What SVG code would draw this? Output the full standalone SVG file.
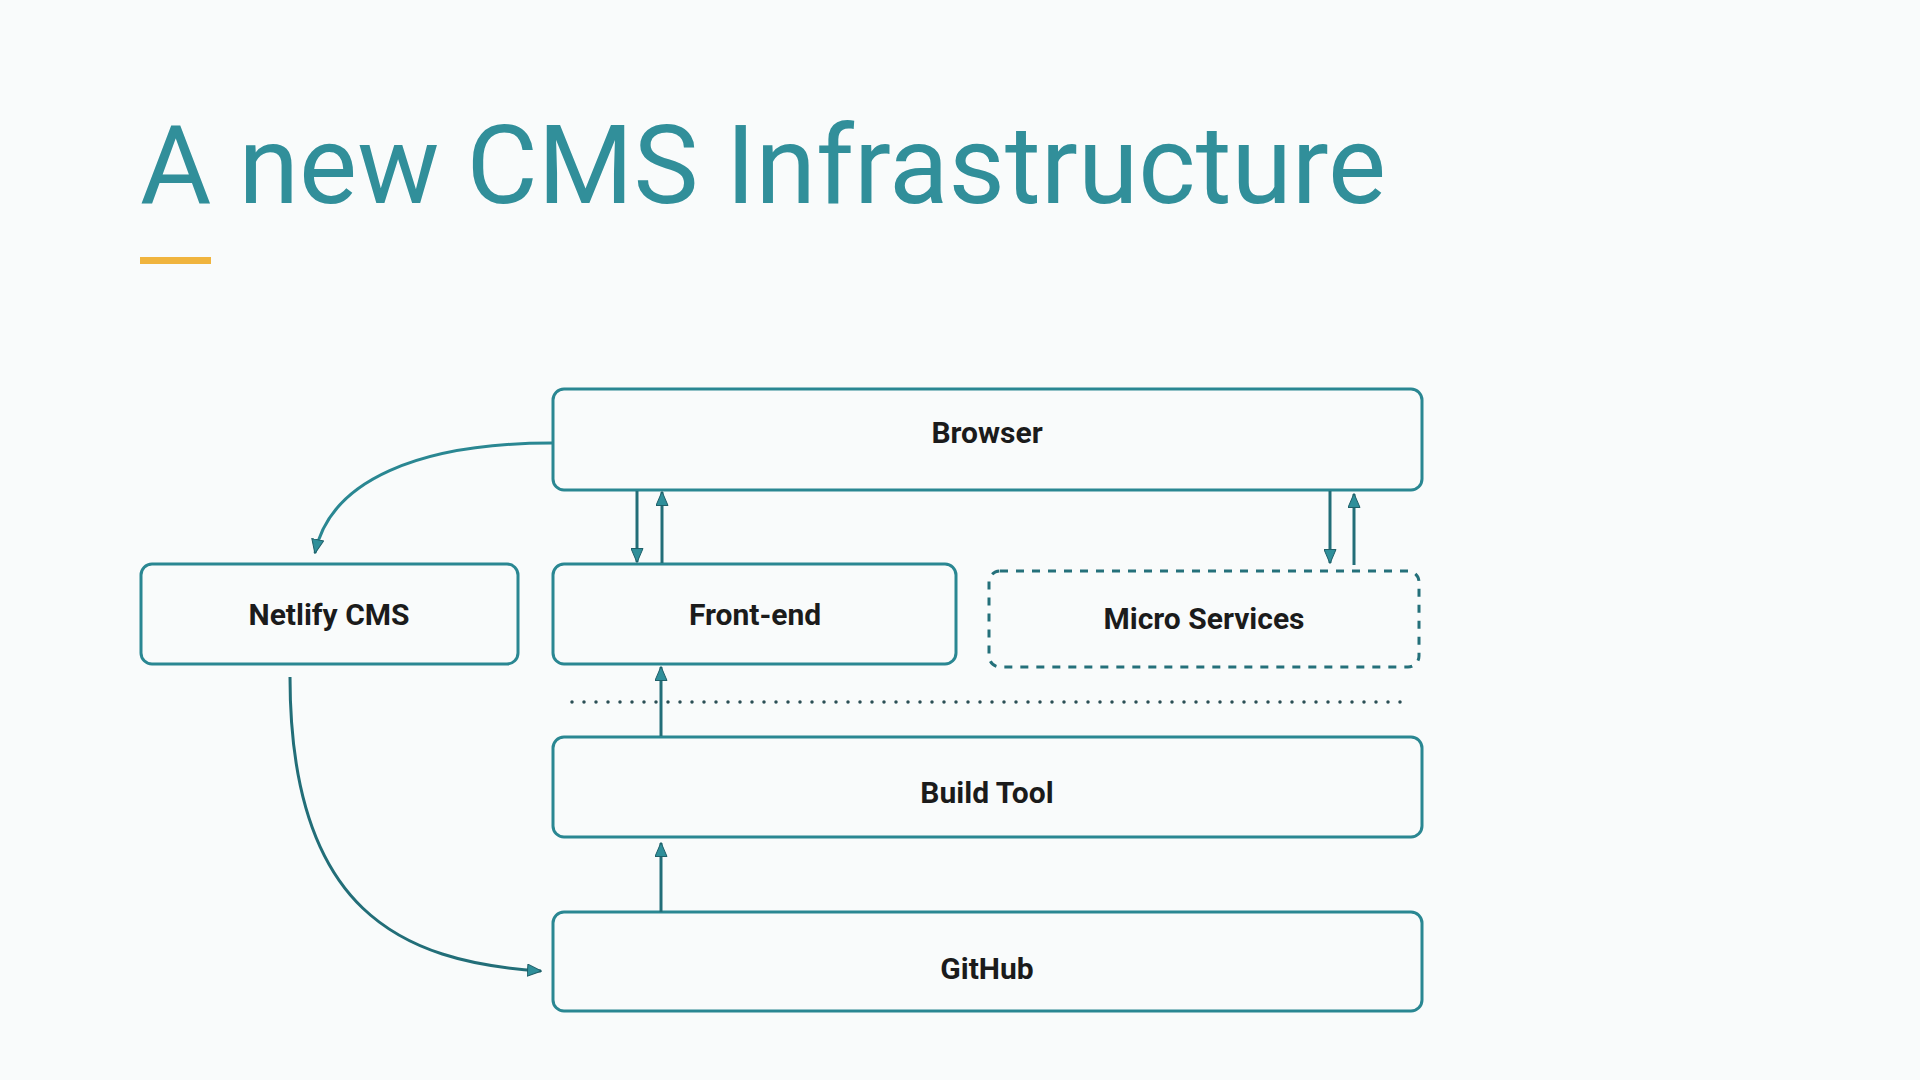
<svg xmlns="http://www.w3.org/2000/svg" width="1920" height="1080" viewBox="0 0 1920 1080">
<defs>
<style>
.box{fill:none;stroke:#2a8792;stroke-width:3}
.dash{fill:none;stroke:#24707a;stroke-width:3;stroke-dasharray:8 8}
.lbl{font-family:Roboto,"Liberation Sans",sans-serif;font-weight:700;font-size:30px;fill:#1b1b1b;text-anchor:middle}
.con{fill:none;stroke:#226e78;stroke-width:3}
.curve{fill:none;stroke:#2a8792;stroke-width:3}
</style>
<marker id="ah" viewBox="0 0 15 13" refX="14" refY="6.5" markerWidth="15" markerHeight="13" markerUnits="userSpaceOnUse" orient="auto">
<path d="M0.5,0.5 L14.5,6.5 L0.5,12.5 Z" fill="#2f8f9a" stroke="#1f5f68" stroke-width="1"/>
</marker>
</defs>
<rect width="1920" height="1080" fill="#f9fbfb"/>
<g id="title">
<text x="140" y="203" font-family="Roboto,'Liberation Sans',sans-serif" font-size="110" fill="#318f9a" textLength="1246" lengthAdjust="spacingAndGlyphs">A new CMS Infrastructure</text>
<rect x="140" y="257" width="71" height="7" fill="#f0b43e"/>
</g>
<g id="browser">
<rect class="box" x="553" y="389" width="869" height="101" rx="11"/>
<text class="lbl" x="987" y="443">Browser</text>
</g>
<g id="netlify-cms">
<rect class="box" x="141" y="564" width="377" height="100" rx="11"/>
<text class="lbl" x="329" y="625">Netlify CMS</text>
</g>
<g id="front-end">
<rect class="box" x="553" y="564" width="403" height="100" rx="11"/>
<text class="lbl" x="755" y="625">Front-end</text>
</g>
<g id="micro-services">
<rect class="dash" x="989" y="571" width="430" height="96" rx="11"/>
<text class="lbl" x="1204" y="629">Micro Services</text>
</g>
<g id="build-tool">
<rect class="box" x="553" y="737" width="869" height="100" rx="11"/>
<text class="lbl" x="987" y="803">Build Tool</text>
</g>
<g id="github">
<rect class="box" x="553" y="912" width="869" height="99" rx="11"/>
<text class="lbl" x="987" y="979">GitHub</text>
</g>
<g id="connectors">
<line x1="572" y1="702" x2="1406" y2="702" stroke="#2b4f55" stroke-width="3.5" stroke-linecap="round" stroke-dasharray="0 12"/>
<line class="con" x1="637" y1="491" x2="637" y2="562" marker-end="url(#ah)"/>
<line class="con" x1="662" y1="563" x2="662" y2="492" marker-end="url(#ah)"/>
<line class="con" x1="1330" y1="491" x2="1330" y2="563" marker-end="url(#ah)"/>
<line class="con" x1="1354" y1="565" x2="1354" y2="494" marker-end="url(#ah)"/>
<line class="con" x1="661" y1="736" x2="661" y2="667" marker-end="url(#ah)"/>
<line class="con" x1="661" y1="912" x2="661" y2="843" marker-end="url(#ah)"/>
<path class="curve" d="M552,443 C420,443 330,480 315,553" marker-end="url(#ah)"/>
<path class="con" d="M290,677 C290,910 400,962 541,971" marker-end="url(#ah)"/>
</g>
</svg>
